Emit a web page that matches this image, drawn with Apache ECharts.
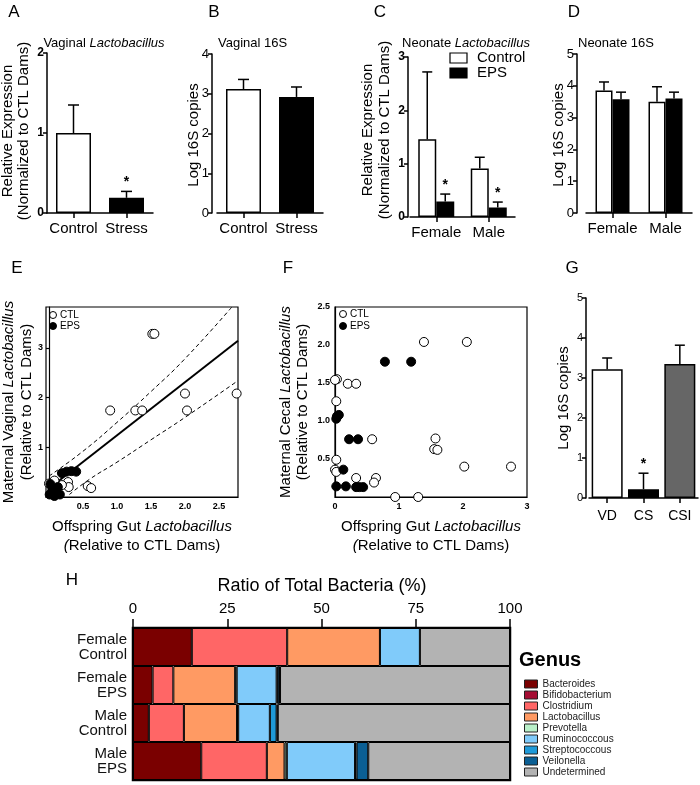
<!DOCTYPE html>
<html><head><meta charset="utf-8">
<script src="https://cdn.jsdelivr.net/npm/echarts@6/dist/echarts.min.js"></script>
<style>html,body{margin:0;padding:0;background:#fff}#c{width:700px;height:785px}</style>
</head><body><div id="c"></div>
<script>
// ---------- DATA ----------
// A: Vaginal Lactobacillus
const aCats = ['Control', 'Stress'];
const aVals = [1.0, 0.19];
const aErr = [1.35, 0.27];
const aSig = [0, 1];
// B: Vaginal 16S
const bCats = ['Control', 'Stress'];
const bVals = [3.12, 2.92];
const bErr = [3.36, 3.17];
// C: Neonate Lactobacillus
const cCats = ['Female', 'Male'];
const cControl = [1.46, 0.91];
const cControlErr = [2.72, 1.12];
const cEPS = [0.29, 0.18];
const cEPSErr = [0.43, 0.28];
const cEPSSig = [1, 1];
// D: Neonate 16S
const dCats = ['Female', 'Male'];
const dControl = [3.85, 3.5];
const dControlErr = [4.12, 3.97];
const dEPS = [3.58, 3.6];
const dEPSErr = [3.8, 3.8];
// E: maternal vaginal vs offspring gut
const eCTL = [[1.52,3.28],[1.55,3.28],[0.90,1.74],[1.27,1.74],[1.37,1.74],[2.0,2.08],[2.03,1.74],[2.76,2.08],
  [0.57,0.22],[0.62,0.18],[0.28,0.30],[0.29,0.20],[0.19,0.24],[0.0,0.27],[0.08,0.33]];
const eEPS = [[0.19,0.48],[0.26,0.51],[0.33,0.52],[0.40,0.51],[0.02,0.26],[0.05,0.16],[0.01,0.05],
  [0.10,0.13],[0.16,0.05],[0.08,0.02],[0.13,0.20]];
const eFit = [[0, 0.17], [2.78, 3.14]];
const eUpper = [[0,0.42],[0.5,0.92],[1.0,1.5],[1.5,2.12],[2.0,2.78],[2.69,3.82]];
const eLower = [[0.3,0.05],[0.6,0.36],[1.0,0.7],[1.5,1.15],[2.0,1.6],[2.78,2.34]];
// F: maternal cecal vs offspring gut
const fCTL = [[1.39,2.04],[2.06,2.04],[0.03,1.55],[0.0,1.54],[0.2,1.49],[0.33,1.49],[0.02,1.26],[0.58,0.76],
  [1.57,0.77],[1.55,0.63],[1.6,0.62],[2.02,0.4],[2.75,0.4],[0.02,0.49],[0.0,0.36],[0.02,0.33],
  [0.33,0.25],[0.64,0.25],[0.61,0.19],[0.94,0.0],[1.3,0.0]];
const fEPS = [[0.78,1.78],[1.19,1.78],[0.02,1.03],[0.06,1.08],[0.03,1.06],[0.22,0.76],[0.36,0.76],
  [0.13,0.36],[0.02,0.14],[0.17,0.14],[0.33,0.13],[0.38,0.13],[0.44,0.13]];
// G: Log 16S by delivery
const gCats = ['VD', 'CS', 'CSI'];
const gVals = [3.22, 0.22, 3.35];
const gErr = [3.5, 0.62, 3.82];
const gSig = [0, 1, 0];
// H: ratio of total bacteria
const hCats = ['Female\nControl', 'Female\nEPS', 'Male\nControl', 'Male\nEPS'];
const genera = ['Bacteroides','Bifidobacterium','Clostridium','Lactobacillus','Prevotella','Ruminococcous','Streptococcous','Veilonella','Undetermined'];
const hBacteroides = [15.6, 5.2, 4.2, 18.1];
const hBifidobacterium = [0, 0, 0, 0];
const hClostridium = [25.3, 5.5, 9.3, 17.4];
const hLactobacillus = [24.6, 16.4, 14.1, 4.7];
const hPrevotella = [0, 0.4, 0.3, 0.6];
const hRuminococcous = [10.6, 10.6, 8.4, 18.1];
const hStreptococcous = [0, 0.3, 1.8, 0.4];
const hVeilonella = [0, 0.6, 0.3, 3.1];
const hUndetermined = [23.9, 61.0, 61.6, 37.6];
const hTicks = [0, 25, 50, 75, 100];

// ---------- STYLE ----------
const FONT = '"Liberation Sans", Arial, Helvetica, sans-serif';
const genusColors = ['#7a0000','#a50d33','#ff6666','#ff9a63','#b9f0c9','#80cbfa','#1f9ad8','#0b5f94','#b3b3b3'];
const hSeriesData = [hBacteroides,hBifidobacterium,hClostridium,hLactobacillus,hPrevotella,hRuminococcous,hStreptococcous,hVeilonella,hUndetermined];

const chart = echarts.init(document.getElementById('c'), null, {renderer:'canvas', width:700, height:785});

const grids = [
  {left:47, top:53, width:106, height:160},
  {left:217, top:54, width:106, height:159},
  {left:410, top:57, width:105, height:160},
  {left:586, top:54, width:106, height:159},
  {left:46, top:307, width:192, height:190, show:true, borderColor:'#000', borderWidth:1.2},
  {left:335, top:307, width:192, height:190, show:true, borderColor:'#000', borderWidth:1.2},
  {left:589, top:298, width:109, height:200},
  {left:133, top:628, width:377, height:152, show:true, borderColor:'#000', borderWidth:2.5}
].map(g => Object.assign({containLabel:false, outerBoundsMode:'none', backgroundColor:'transparent'}, g));

const axLine = {show:true, lineStyle:{color:'#000', width:1.5}};
function catX(gi, data, fs, margin) {
  return {gridIndex:gi, type:'category', data:data, axisLine:axLine,
    axisTick:{show:true, alignWithLabel:true, length:5, lineStyle:{color:'#000', width:1.5}},
    axisLabel:{color:'#000', fontSize:fs||15, fontFamily:FONT, margin:margin||8, interval:0},
    splitLine:{show:false}};
}
function valY(gi, max, interval, bold, fs, offset) {
  return {gridIndex:gi, type:'value', min:0, max:max, interval:interval, offset:offset||0,
    axisLine:axLine, axisTick:{show:true, length:4, lineStyle:{color:'#000', width:1.5}},
    axisLabel:{color:'#000', fontSize:fs, fontWeight:bold?'bold':'normal', fontFamily:FONT, margin:3},
    splitLine:{show:false}};
}

const xAxes = [
  catX(0, aCats), catX(1, bCats), catX(2, cCats), catX(3, dCats),
  {gridIndex:4, type:'value', min:-0.044, max:2.78, axisLine:{show:true, lineStyle:{color:'#000', width:1.2}},
    axisTick:{show:false}, splitLine:{show:false},
    axisLabel:{customValues:[0.5,1,1.5,2,2.5], formatter:v=>v.toFixed(1), color:'#000', fontSize:9, fontWeight:'bold', fontFamily:FONT, margin:5}},
  {gridIndex:5, type:'value', min:0, max:3, interval:1, axisLine:{show:true, lineStyle:{color:'#000', width:1.2}},
    axisTick:{show:false}, splitLine:{show:false},
    axisLabel:{color:'#000', fontSize:9, fontWeight:'bold', fontFamily:FONT, margin:5}},
  catX(6, gCats, 14, 11),
  {gridIndex:7, type:'value', position:'top', min:0, max:100, interval:25,
    axisLine:{show:true, lineStyle:{color:'#000', width:1.5}},
    axisTick:{show:true, length:9, lineStyle:{color:'#000', width:1.5}},
    axisLabel:{color:'#000', fontSize:15, fontFamily:FONT, margin:12, customValues:hTicks},
    splitLine:{show:false}}
];
const yAxes = [
  valY(0, 2, 1, true, 12, 0),
  valY(1, 4, 1, false, 13, 5),
  valY(2, 3, 1, true, 12, 2),
  valY(3, 5, 1, false, 13, 9),
  {gridIndex:4, type:'value', min:0, max:3.82, axisLine:{show:true, lineStyle:{color:'#000', width:1.2}},
    axisTick:{show:true, length:3, customValues:[1,2,3], lineStyle:{color:'#000', width:1.2}}, splitLine:{show:false},
    axisLabel:{customValues:[1,2,3], color:'#000', fontSize:9, fontWeight:'bold', fontFamily:FONT, margin:3}},
  {gridIndex:5, type:'value', min:0, max:2.5, interval:0.5, axisLine:{show:true, lineStyle:{color:'#000', width:1.2}},
    axisTick:{show:false}, splitLine:{show:false},
    axisLabel:{formatter:v=> v===0 ? '' : v.toFixed(1), color:'#000', fontSize:9, fontWeight:'bold', fontFamily:FONT, margin:5}},
  valY(6, 5, 1, false, 11, 3),
  {gridIndex:7, type:'category', data:hCats, inverse:true, axisLine:{show:false}, axisTick:{show:false},
    axisLabel:{color:'#111', fontSize:15, lineHeight:15, fontFamily:FONT, margin:6, align:'right'}}
];

function barSeries(gi, vals, colors, width, extra) {
  return Object.assign({type:'bar', xAxisIndex:gi, yAxisIndex:gi, barWidth:width,
    data: vals.map((v,i)=>({value:v, itemStyle:{color:colors[i % colors.length]}})),
    itemStyle:{borderColor:'#000', borderWidth:1.5}, silent:true, animation:false}, extra||{});
}
function errSeries(gi, vals, errs, sig, off, capW) {
  return {type:'custom', xAxisIndex:gi, yAxisIndex:gi, animation:false, silent:true, clip:false, z:5,
    data: vals.map((v,i)=>[i, errs[i], v, sig ? sig[i] : 0]),
    renderItem: function(params, api) {
      const top = api.coord([api.value(0), api.value(1)]);
      const base = api.coord([api.value(0), api.value(2)]);
      const x = top[0] + off;
      const ch = [
        {type:'line', shape:{x1:x, y1:base[1], x2:x, y2:top[1]}, style:{stroke:'#000', lineWidth:1.5}},
        {type:'line', shape:{x1:x-capW/2, y1:top[1], x2:x+capW/2, y2:top[1]}, style:{stroke:'#000', lineWidth:1.5}}
      ];
      if (api.value(3)) ch.push({type:'text', x:x, y:top[1]-2,
        style:{text:'*', fill:'#000', fontSize:14, fontWeight:'bold', fontFamily:FONT, align:'center', verticalAlign:'bottom'}});
      return {type:'group', children:ch};
    }};
}
function scatter(gi, data, filled) {
  return {type:'scatter', xAxisIndex:gi, yAxisIndex:gi, data:data, symbolSize:9, clip:false, animation:false, silent:true,
    itemStyle: filled ? {color:'#000', borderColor:'#000', borderWidth:1, opacity:1}
                      : {color:'#fff', borderColor:'#000', borderWidth:1, opacity:1}, z: filled ? 4 : 3};
}
function lineS(gi, data, dashed, w) {
  return {type:'line', xAxisIndex:gi, yAxisIndex:gi, data:data, symbol:'none', smooth:!!dashed, animation:false, silent:true, z:2,
    lineStyle:{color:'#000', width:w, type: dashed ? [4,3] : 'solid'}};
}

const series = [
  barSeries(0, aVals, ['#fff','#000'], 35),
  errSeries(0, aVals, aErr, aSig, 0, 11),
  barSeries(1, bVals, ['#fff','#000'], 35),
  errSeries(1, bVals, bErr, null, 0, 11),
  barSeries(2, cControl, ['#fff'], 18, {barGap:'0%'}),
  barSeries(2, cEPS, ['#000'], 18, {barGap:'0%'}),
  errSeries(2, cControl, cControlErr, null, -9, 10),
  errSeries(2, cEPS, cEPSErr, cEPSSig, 9, 10),
  barSeries(3, dControl, ['#fff'], 17, {barGap:'0%'}),
  barSeries(3, dEPS, ['#000'], 17, {barGap:'0%'}),
  errSeries(3, dControl, dControlErr, null, -8.5, 10),
  errSeries(3, dEPS, dEPSErr, null, 8.5, 10),
  lineS(4, eUpper, true, 1),
  lineS(4, eLower, true, 1),
  lineS(4, eFit, false, 2),
  scatter(4, eCTL, false),
  scatter(4, eEPS, true),
  scatter(5, fCTL, false),
  scatter(5, fEPS, true),
  barSeries(6, gVals, ['#fff','#000','#666'], 31),
  errSeries(6, gVals, gErr, gSig, 0, 10)
];
genera.forEach((g, k) => {
  series.push({type:'bar', name:g, stack:'h', xAxisIndex:7, yAxisIndex:7, barWidth:'100%', animation:false, silent:true,
    data: hSeriesData[k].map(v => v === 0 ? '-' : v),
    itemStyle:{color:genusColors[k], borderColor:'#000', borderWidth:1}});
});

function T(x, y, text, size, opts) {
  opts = opts || {};
  const rich = {i:{fontStyle:'italic', fontSize:size, fontFamily:FONT, fill:'#000'}};
  return {type:'text', x:x, y:y, rotation: opts.rot ? Math.PI/2 : 0, z:10, silent:true,
    style:{text:text, fontSize:size, fontFamily:FONT, fontWeight:opts.bold?'bold':'normal', fill:'#000',
      align:opts.align||'center', verticalAlign:'middle', lineHeight:opts.lh||size*1.15, rich:rich}};
}
const graphics = [
  T(14, 12, 'A', 17), T(214, 12, 'B', 17), T(380, 12, 'C', 17), T(574, 12, 'D', 17),
  T(17, 268, 'E', 17), T(288, 268, 'F', 17), T(572, 268, 'G', 17), T(72, 580, 'H', 17),
  T(104, 43, 'Vaginal {i|Lactobacillus}', 13), T(218, 43, 'Vaginal 16S', 13, {align:'left'}),
  T(466, 43, 'Neonate {i|Lactobacillus}', 13), T(578, 43, 'Neonate 16S', 13, {align:'left'}),
  T(16, 131, 'Relative Expression\n(Normalized to CTL Dams)', 15, {rot:true, lh:16}),
  T(194, 135, 'Log 16S copies', 15, {rot:true}),
  T(376, 130, 'Relative Expression\n(Normalized to CTL Dams)', 15, {rot:true, lh:17}),
  T(559, 135, 'Log 16S copies', 15, {rot:true}),
  T(18, 402, 'Maternal Vaginal {i|Lactobacillus}\n(Relative to CTL Dams)', 15, {rot:true, lh:18}),
  T(294, 402, 'Maternal Cecal {i|Lactobacillus}\n(Relative to CTL Dams)', 15, {rot:true, lh:17}),
  T(142, 536, 'Offspring Gut {i|Lactobacillus}\n{i|(}Relative to CTL Dams)', 15, {lh:19}),
  T(431, 536, 'Offspring Gut {i|Lactobacillus}\n{i|(}Relative to CTL Dams)', 15, {lh:19}),
  T(564, 398, 'Log 16S copies', 15, {rot:true}),
  T(322, 586, 'Ratio of Total Bacteria (%)', 18),
  T(519, 660, 'Genus', 20, {bold:true, align:'left'}),
  // C legend
  {type:'rect', shape:{x:450, y:53, width:17, height:10}, style:{fill:'#fff', stroke:'#000', lineWidth:1.2}},
  {type:'rect', shape:{x:450, y:68, width:17, height:10}, style:{fill:'#000', stroke:'#000', lineWidth:1.2}},
  T(477, 58, 'Control', 15, {align:'left'}), T(477, 73, 'EPS', 15, {align:'left'}),
  // E legend
  {type:'circle', shape:{cx:53, cy:315, r:3.5}, style:{fill:'#fff', stroke:'#000', lineWidth:1}},
  {type:'circle', shape:{cx:53, cy:326, r:3.5}, style:{fill:'#000', stroke:'#000', lineWidth:1}},
  T(60, 315, 'CTL', 10, {align:'left'}), T(60, 326, 'EPS', 10, {align:'left'}),
  // F legend
  {type:'circle', shape:{cx:343, cy:314, r:3.5}, style:{fill:'#fff', stroke:'#000', lineWidth:1}},
  {type:'circle', shape:{cx:343, cy:326, r:3.5}, style:{fill:'#000', stroke:'#000', lineWidth:1}},
  T(350, 314, 'CTL', 10, {align:'left'}), T(350, 326, 'EPS', 10, {align:'left'})
];

chart.setOption({
  animation:false,
  backgroundColor:'#fff',
  textStyle:{fontFamily:FONT},
  grid:grids, xAxis:xAxes, yAxis:yAxes, series:series, graphic:graphics,
  legend:{data:genera, orient:'vertical', left:519, top:674, itemWidth:13, itemHeight:8, itemGap:1, icon:'rect',
    selectedMode:false, textStyle:{fontSize:10, lineHeight:10, color:'#222', fontFamily:FONT},
    itemStyle:{borderColor:'#222', borderWidth:1}}
});
</script></body></html>
